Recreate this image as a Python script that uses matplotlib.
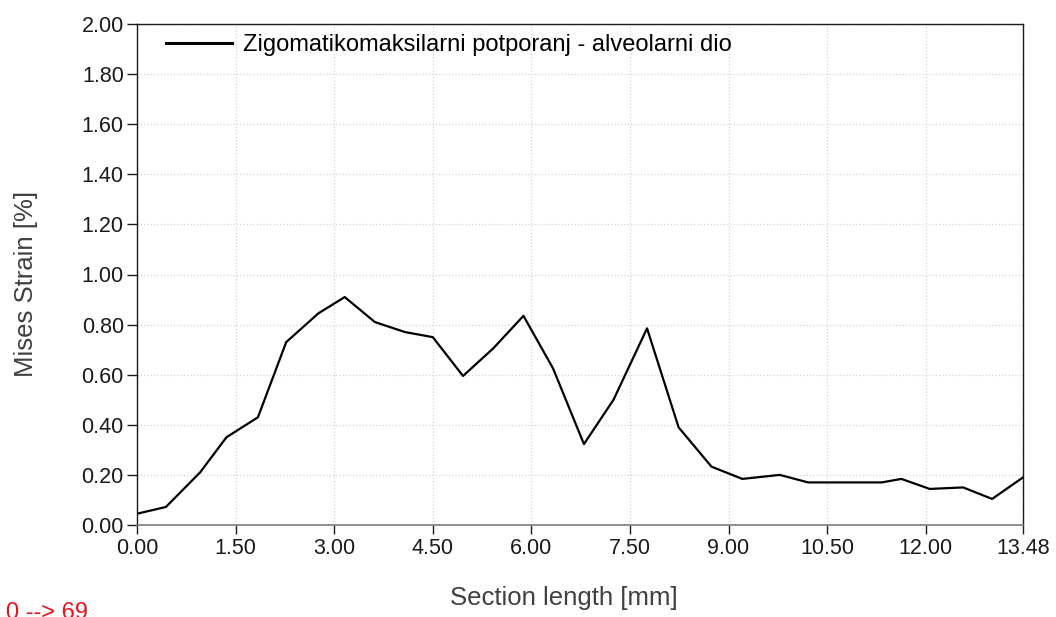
import matplotlib
matplotlib.use('Agg')
import matplotlib.pyplot as plt

# section position [mm] and Mises strain [%] along the path
section_mm = [0.00, 0.44, 0.96, 1.36, 1.84, 2.27, 2.76, 3.16, 3.62, 4.08,
              4.50, 4.96, 5.42, 5.88, 6.33, 6.80, 7.25, 7.76, 8.24, 8.74,
              9.21, 9.78, 10.21, 10.74, 11.33, 11.63, 12.06, 12.57, 13.01, 13.48]
strain_pct = [0.045, 0.072, 0.21, 0.35, 0.43, 0.73, 0.845, 0.91, 0.81, 0.77,
              0.75, 0.595, 0.705, 0.835, 0.625, 0.323, 0.50, 0.785, 0.39, 0.233,
              0.184, 0.20, 0.17, 0.17, 0.17, 0.184, 0.144, 0.15, 0.104, 0.19]

x_ticks = [0.0, 1.5, 3.0, 4.5, 6.0, 7.5, 9.0, 10.5, 12.0, 13.48]
y_ticks = [0.0, 0.2, 0.4, 0.6, 0.8, 1.0, 1.2, 1.4, 1.6, 1.8, 2.0]

series_label = 'Zigomatikomaksilarni potporanj - alveolarni dio'

plt.rcParams['font.family'] = ['Liberation Sans', 'DejaVu Sans']

fig = plt.figure(figsize=(10.56, 6.17), dpi=100)
ax = fig.add_axes([137 / 1056, 1 - 525 / 617, 886 / 1056, 501 / 617])

ax.plot(section_mm, strain_pct, color='black', linewidth=1.6, label=series_label)

ax.set_xlim(0, 13.48)
ax.set_ylim(0, 2.0)
ax.set_xticks(x_ticks)
ax.set_xticklabels([f'{v:.2f}' for v in x_ticks])
ax.set_yticks(y_ticks)
ax.set_yticklabels([f'{v:.2f}' for v in y_ticks])

ax.grid(True, color='#d4d4d4', linestyle=':', linewidth=0.9)
ax.set_axisbelow(True)

ax.tick_params(axis='y', direction='out', length=7.5, width=1.0, pad=2,
               labelsize=15.5, colors='#1a1a1a')
ax.tick_params(axis='x', direction='out', length=6.5, width=1.0, pad=3,
               labelsize=15.5, colors='#1a1a1a')

for side in ['left', 'top', 'right']:
    ax.spines[side].set_color('#1a1a1a')
    ax.spines[side].set_linewidth(1.0)
ax.spines['bottom'].set_color('#7a7a7a')
ax.spines['bottom'].set_linewidth(1.2)

ax.set_xlabel('Section length [mm]', fontsize=18.5, color='#404040')
ax.set_ylabel('Mises Strain [%]', fontsize=18.5, color='#404040')
ax.xaxis.set_label_coords(0.482, -0.122)
ax.yaxis.set_label_coords(-0.112, 0.482)

leg = ax.legend(loc='upper left', bbox_to_anchor=((166 - 137) / 886, 0.98),
                frameon=False, fontsize=17, handlelength=2.8, handletextpad=0.47,
                borderpad=0, borderaxespad=0)
for line in leg.get_lines():
    line.set_linewidth(2.2)

fig.text(6 / 1056, 1 - 602 / 617, '0 --> 69', color='#e8141c', fontsize=17,
         ha='left', va='top')

fig.savefig('out.png', dpi=100, facecolor='white')
